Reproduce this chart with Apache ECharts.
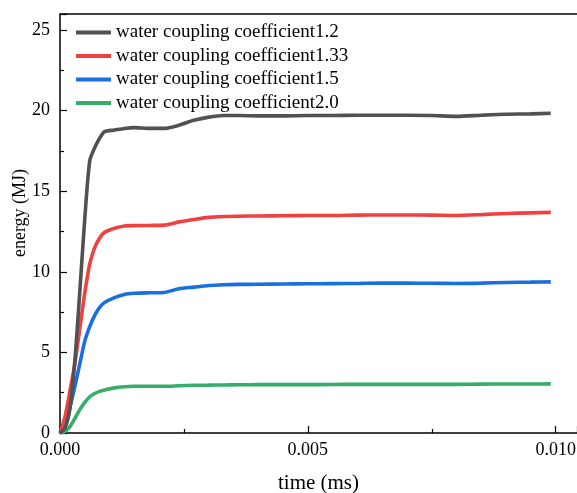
<!DOCTYPE html>
<html><head><meta charset="utf-8">
<script src="https://cdn.jsdelivr.net/npm/echarts@6/dist/echarts.min.js"></script>
<style>html,body{margin:0;padding:0;background:#fff;overflow:hidden}#c{width:577px;height:493px}</style>
</head><body><div id="c"></div>
<script>
const time = [0, 0.0001, 0.0002, 0.0003, 0.0004, 0.0005, 0.0006, 0.0007, 0.0008, 0.0009, 0.0011, 0.0013, 0.0015, 0.0018, 0.0021, 0.0024, 0.0027, 0.003, 0.0033, 0.0036, 0.004, 0.0045, 0.005, 0.0055, 0.006, 0.0065, 0.007, 0.0075, 0.008, 0.0085, 0.009, 0.0095, 0.0099];
const seriesNames = ['water coupling coefficient1.2', 'water coupling coefficient1.33', 'water coupling coefficient1.5', 'water coupling coefficient2.0'];
const energy12 = [0, 0.3, 1.5, 4.5, 8.8, 13.3, 16.9, 17.7, 18.3, 18.7, 18.8, 18.9, 18.95, 18.9, 18.9, 19.1, 19.4, 19.6, 19.7, 19.7, 19.68, 19.68, 19.7, 19.7, 19.72, 19.72, 19.72, 19.7, 19.65, 19.72, 19.78, 19.8, 19.84];
const energy133 = [0, 1.0, 2.6, 4.3, 6.5, 8.7, 10.5, 11.5, 12.1, 12.45, 12.7, 12.85, 12.87, 12.88, 12.9, 13.1, 13.25, 13.38, 13.43, 13.45, 13.47, 13.48, 13.5, 13.5, 13.52, 13.53, 13.53, 13.52, 13.5, 13.55, 13.62, 13.66, 13.69];
const energy15 = [0, 0.55, 1.6, 2.9, 4.3, 5.7, 6.6, 7.3, 7.8, 8.1, 8.4, 8.6, 8.67, 8.7, 8.72, 8.95, 9.05, 9.15, 9.2, 9.22, 9.23, 9.25, 9.26, 9.27, 9.28, 9.3, 9.3, 9.29, 9.28, 9.3, 9.34, 9.36, 9.38];
const energy20 = [0, 0.1, 0.4, 0.9, 1.45, 1.9, 2.25, 2.45, 2.58, 2.67, 2.8, 2.87, 2.9, 2.9, 2.9, 2.93, 2.96, 2.97, 2.98, 2.99, 3.0, 3.0, 3.0, 3.01, 3.02, 3.02, 3.02, 3.02, 3.02, 3.03, 3.04, 3.04, 3.05];
const xTickLabels = ['0.000', '0.005', '0.010'];
const yTickLabels = ['0', '5', '10', '15', '20', '25'];

const colors = ['#515151', '#F14040', '#1A6FDF', '#37AD6B'];
const allData = [energy12, energy133, energy15, energy20];
const font = 'Liberation Serif, Times New Roman, serif';

const series = allData.map((vals, i) => ({
  name: seriesNames[i],
  type: 'line',
  data: time.map((t, j) => [t, vals[j]]),
  showSymbol: false,
  symbol: 'none',
  smooth: 0.25,
  lineStyle: { color: colors[i], width: 3.6 },
  itemStyle: { color: colors[i] },
  z: 10 - i
}));

const chart = echarts.init(document.getElementById('c'), null, { renderer: 'canvas' });
chart.setOption({
  animation: false,
  backgroundColor: '#fff',
  grid: { left: 60, right: 0, top: 14, bottom: 60, containLabel: false, outerBoundsMode: 'none' },
  legend: {
    orient: 'vertical', left: 76, top: 23, padding: 0,
    icon: 'rect',
    itemWidth: 35, itemHeight: 4, itemGap: 4.5,
    textStyle: { fontFamily: font, fontSize: 19, lineHeight: 19, color: '#000' },
    data: seriesNames
  },
  graphic: [{
    type: 'text', x: 20, y: 213, rotation: Math.PI / 2,
    style: { text: 'energy (MJ)', fontFamily: font, fontSize: 18, fill: '#000', textAlign: 'center', textVerticalAlign: 'middle' }
  }],
  xAxis: [{
    type: 'value', min: 0, max: 0.01043, interval: 0.005,
    name: 'time (ms)', nameLocation: 'middle', nameGap: 40,
    nameTextStyle: { fontFamily: font, fontSize: 21, color: '#000' },
    axisLine: { show: true, onZero: false, lineStyle: { color: '#000', width: 1.5 } },
    axisTick: { show: true, inside: true, length: 7, lineStyle: { color: '#000', width: 1.2 } },
    minorTick: { show: true, splitNumber: 2, length: 4, lineStyle: { color: '#000', width: 1.2 } },
    splitLine: { show: false }, minorSplitLine: { show: false },
    axisLabel: {
      fontFamily: font, fontSize: 18, color: '#000', margin: 8,
      formatter: v => { const k = Math.round(v / 0.005); return xTickLabels[k] || ''; }
    }
  }, {
    type: 'value', min: 0, max: 0.01043, position: 'top',
    axisLine: { show: true, onZero: false, lineStyle: { color: '#000', width: 1.5 } },
    axisTick: { show: false }, axisLabel: { show: false }, splitLine: { show: false }
  }],
  yAxis: {
    type: 'value', min: 0, max: 26, interval: 5,
    axisLine: { show: true, onZero: false, lineStyle: { color: '#000', width: 1.5 } },
    axisTick: { show: true, inside: true, length: 7, lineStyle: { color: '#000', width: 1.2 } },
    minorTick: { show: true, splitNumber: 2, length: 4, lineStyle: { color: '#000', width: 1.2 } },
    splitLine: { show: false }, minorSplitLine: { show: false },
    axisLabel: {
      fontFamily: font, fontSize: 18, color: '#000', margin: 10,
      formatter: v => { const k = Math.round(v / 5); return yTickLabels[k] || ''; }
    }
  },
  series: series
});
</script></body></html>
